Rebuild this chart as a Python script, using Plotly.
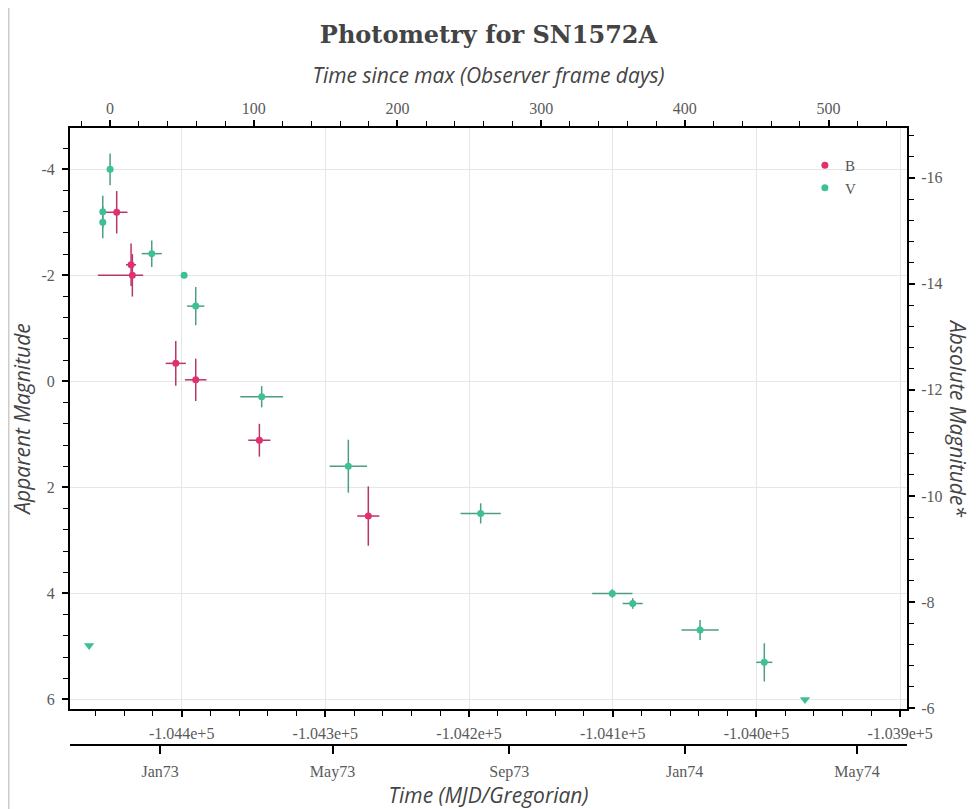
import plotly.graph_objects as go

TITLE = "Photometry for SN1572A"
T_MAX = -104449.8          # MJD of maximum
DIST_MOD = 12.16           # distance modulus (apparent - absolute)

# B band
B_MJD = [-104445.2, -104435.2, -104434.3, -104404.1, -104390.2, -104345.9, -104270.1]
B_MAG = [-3.19, -2.2, -2.0, -0.34, -0.03, 1.11, 2.54]
B_MAG_ERR = [0.40, 0.40, 0.40, 0.42, 0.40, 0.31, 0.56]
B_T_ERR_PLUS = [7.5, 3.5, 7.5, 7.0, 7.5, 7.7, 7.7]
B_T_ERR_MINUS = [7.5, 3.5, 24.0, 7.0, 7.5, 7.7, 7.7]

# V band
V_MJD = [-104454.9, -104454.9, -104449.8, -104420.8, -104398.3, -104390.2, -104344.3,
         -104284.0, -104191.9, -104100.3, -104086.1, -104039.2, -103994.5]
V_MAG = [-3.2, -3.0, -4.0, -2.41, -2.0, -1.42, 0.29, 1.6, 2.49, 4.0, 4.19, 4.69, 5.3]
V_MAG_ERR = [0.3, 0.3, 0.3, 0.25, 0.05, 0.36, 0.2, 0.5, 0.19, 0.08, 0.1, 0.19, 0.36]
V_T_ERR = [0.0, 0.0, 0.0, 7.0, 2.0, 6.0, 14.9, 13.0, 14.0, 14.0, 7.0, 13.0, 5.6]

# V upper limits
VUL_MJD = [-104464.4, -103966.2]
VUL_MAG = [4.98, 6.0]

# axes
X_RANGE = [-104477.7, -103895.2]
Y_RANGE = [6.18, -4.78]
MJD_TICKS = [-104400, -104300, -104200, -104100, -104000, -103900]
MJD_LABELS = ["-1.044e+5", "-1.043e+5", "-1.042e+5", "-1.041e+5", "-1.040e+5", "-1.039e+5"]
CAL_MJD = [-104415, -104295, -104172, -104050, -103930]
CAL_LABELS = ["Jan73", "May73", "Sep73", "Jan74", "May74"]
MAG_TICKS = [-4, -2, 0, 2, 4, 6]
MAG_LABELS = ["-4", "-2", "0", "2", "4", "6"]
ABS_TICKS = [-16, -14, -12, -10, -8, -6]
ABS_LABELS = ["-16", "-14", "-12", "-10", "-8", "-6"]
TSM_TICKS = [0, 100, 200, 300, 400, 500]

B_COLOR = "#e0306f"
B_ERR = "#b8356a"
V_COLOR = "#3dbf98"
V_ERR = "#4f9c84"

TICK_FONT = dict(family="Liberation Serif", size=16, color="#5a5a5a")
TITLE_FONT = dict(family="Open Sans", size=21, color="#444444", style="italic")


def minor_vals(lo, hi, step):
    n0 = int(round(lo / step)) - 1
    n1 = int(round(hi / step)) + 1
    return [round(k * step, 6) for k in range(n0, n1 + 1)]


fig = go.Figure()

fig.add_trace(go.Scatter(
    x=B_MJD, y=B_MAG, mode="markers", name="B",
    marker=dict(color=B_COLOR, size=7, symbol="circle"),
    error_y=dict(type="data", array=B_MAG_ERR, color=B_ERR, thickness=1.5, width=0),
    error_x=dict(type="data", array=B_T_ERR_PLUS, arrayminus=B_T_ERR_MINUS, symmetric=False,
                 color=B_ERR, thickness=1.5, width=0),
    xaxis="x", yaxis="y"))

fig.add_trace(go.Scatter(
    x=V_MJD, y=V_MAG, mode="markers", name="V",
    marker=dict(color=V_COLOR, size=7, symbol="circle"),
    error_y=dict(type="data", array=V_MAG_ERR, color=V_ERR, thickness=1.5, width=0),
    error_x=dict(type="data", array=V_T_ERR, color=V_ERR, thickness=1.5, width=0),
    xaxis="x", yaxis="y"))

fig.add_trace(go.Scatter(
    x=VUL_MJD, y=VUL_MAG, mode="markers", name="V limits", showlegend=False,
    marker=dict(color=V_COLOR, size=9, symbol="triangle-down"),
    xaxis="x", yaxis="y"))

# invisible helper traces so the secondary axes are drawn
fig.add_trace(go.Scatter(x=[v - T_MAX for v in V_MJD], y=V_MAG, mode="markers",
                         marker=dict(opacity=0), showlegend=False, hoverinfo="skip",
                         xaxis="x2", yaxis="y"))
fig.add_trace(go.Scatter(x=V_MJD, y=V_MAG, mode="markers",
                         marker=dict(opacity=0), showlegend=False, hoverinfo="skip",
                         xaxis="x3", yaxis="y"))
fig.add_trace(go.Scatter(x=V_MJD, y=[m - DIST_MOD for m in V_MAG], mode="markers",
                         marker=dict(opacity=0), showlegend=False, hoverinfo="skip",
                         xaxis="x", yaxis="y2"))

axis_common = dict(showline=True, linecolor="black", linewidth=2, ticks="outside",
                   tickcolor="black", tickwidth=1.5, ticklen=6, tickfont=TICK_FONT,
                   zeroline=False, mirror=False, automargin=False)

minor_style = dict(ticks="outside", ticklen=5, tickcolor="black", tickwidth=1.2, showgrid=False)

ABS_RANGE = [Y_RANGE[0] - DIST_MOD, Y_RANGE[1] - DIST_MOD]

# the page body has an 8 px margin, so the figure starts at (8, 8)
fig.update_layout(
    width=968, height=801,
    margin=dict(l=62, r=69, t=120, b=64, autoexpand=False),
    paper_bgcolor="white", plot_bgcolor="white",
    title=dict(text=TITLE, x=0.5, xref="paper", xanchor="center",
               y=1 - 27 / 801, yanchor="middle", yref="container",
               font=dict(family="DejaVu Serif", size=24, color="#444444", weight="bold")),
    showlegend=True,
    legend=dict(x=0.878, y=0.966, xanchor="left", yanchor="top", bgcolor="rgba(0,0,0,0)",
                font=dict(family="Liberation Serif", size=15, color="#555555"),
                itemsizing="trace", tracegroupgap=0),
    xaxis=dict(**axis_common, range=X_RANGE, autorange=False, anchor="y", side="bottom",
               tickmode="array", tickvals=MJD_TICKS, ticktext=MJD_LABELS,
               ticklabelstandoff=3,
               showgrid=True, gridcolor="#e6e6e6", gridwidth=1,
               minor=dict(tickmode="linear", tick0=-104400, dtick=20, **minor_style)),
    xaxis2=dict(**axis_common, range=[X_RANGE[0] - T_MAX, X_RANGE[1] - T_MAX], autorange=False,
                anchor="y", side="top", overlaying="x",
                tickmode="array", tickvals=TSM_TICKS, ticktext=[str(t) for t in TSM_TICKS],
                showgrid=False,
                title=dict(text="Time since max (Observer frame days)", font=TITLE_FONT, standoff=10),
                minor=dict(tickmode="linear", tick0=0, dtick=20, **minor_style)),
    xaxis3=dict(**{**axis_common, "ticklen": 8}, range=X_RANGE, autorange=False,
                anchor="free", position=0, side="bottom", overlaying="x",
                tickmode="array", tickvals=CAL_MJD, ticktext=CAL_LABELS,
                ticklabelstandoff=4,
                showgrid=False,
                title=dict(text="Time (MJD/Gregorian)", font=TITLE_FONT, standoff=10)),
    yaxis=dict(**axis_common, range=Y_RANGE, autorange=False, anchor="x", side="left",
               domain=[36 / 617, 1],
               tickmode="array", tickvals=MAG_TICKS, ticktext=MAG_LABELS,
               ticklabelstandoff=4,
               showgrid=True, gridcolor="#e6e6e6", gridwidth=1,
               title=dict(text="Apparent Magnitude", font=TITLE_FONT, standoff=12),
               minor=dict(tickmode="array",
                          tickvals=minor_vals(Y_RANGE[1], Y_RANGE[0], 0.4), **minor_style)),
    yaxis2=dict(**axis_common, range=ABS_RANGE,
                autorange=False, anchor="x", side="right", overlaying="y",
                tickmode="array", tickvals=ABS_TICKS, ticktext=ABS_LABELS,
                ticklabelstandoff=3,
                showgrid=False,
                minor=dict(tickmode="array",
                           tickvals=minor_vals(ABS_RANGE[1], ABS_RANGE[0], 0.4), **minor_style)),
)

# right-hand axis title, reading top to bottom
fig.add_annotation(text="Absolute Magnitude*", xref="paper", yref="paper",
                   x=1 + (950 - 899) / 837, y=1 - (410 - 120) / 617, showarrow=False,
                   textangle=90, font=TITLE_FONT, xanchor="center", yanchor="middle")

# thin page border at the left
fig.add_shape(type="line", xref="paper", yref="paper",
              x0=(0.5 - 62) / 837, x1=(0.5 - 62) / 837, y0=-64 / 617, y1=1 + 120 / 617,
              line=dict(color="#cccccc", width=2))

fig.write_html("out.html")
